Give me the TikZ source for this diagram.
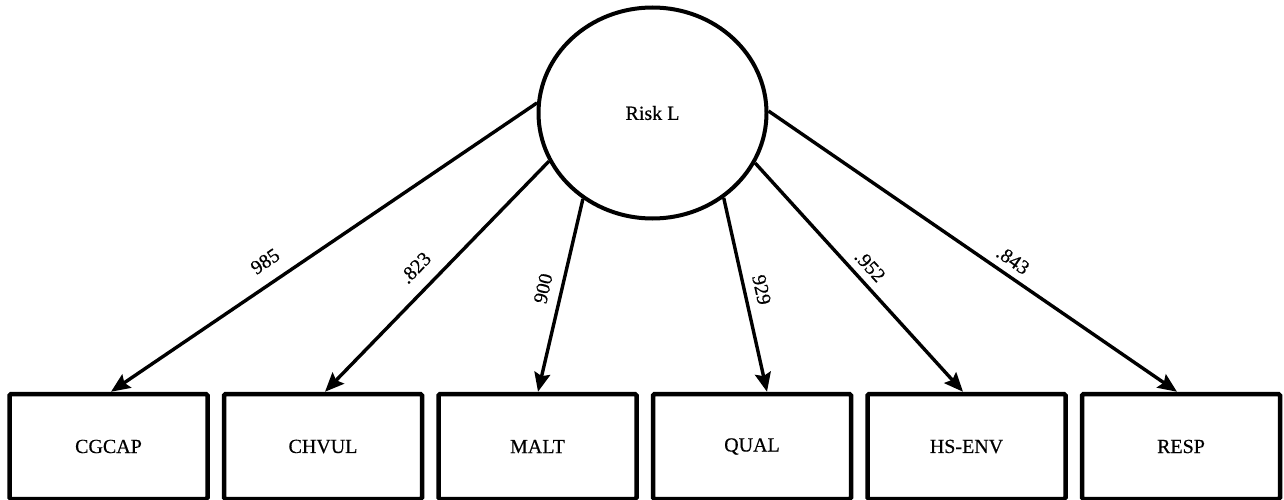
\documentclass[tikz,border=0pt]{standalone}
\usepackage{fontspec}
\setmainfont{Liberation Serif}
\newfontfamily\diafont{Liberation Serif}[FakeBold=0.5]
\usetikzlibrary{shapes.geometric,arrows.meta,calc}
\begin{document}
\begin{tikzpicture}[x=1pt,y=1pt,
  latent/.style={ellipse,draw,line width=4pt,minimum width=228pt,minimum height=211pt,inner sep=0pt,font=\diafont\fontsize{20}{23}\selectfont},
  obs/.style={rectangle,draw,line width=4.5pt,rounded corners=1.5pt,minimum width=198pt,minimum height=105pt,font=\diafont\fontsize{20}{23}\selectfont},
  path/.style={line width=3.4pt,-{Stealth[length=19pt,width=16pt,inset=3pt]}},
  coef/.style={sloped,inner sep=0pt,font=\diafont\fontsize{20}{23}\selectfont}]
\useasboundingbox (0,0) rectangle (1284,499);
\node[latent] (R) at (652.5,386) {Risk L};
\node[obs] (b1) at (108.5,52.5) {CGCAP};
\node[obs] (b2) at (323,52.5) {CHVUL};
\node[obs] (b3) at (537.5,52.5) {MALT};
\node[obs] (b4) at (752,52.5) {QUAL};
\node[obs] (b5) at (966.5,52.5) {HS-ENV};
\node[obs] (b6) at (1181,52.5) {RESP};
\coordinate (e1) at ($(b1.north)+(2.5,0)$);
\coordinate (e2) at ($(b2.north)+(2,0)$);
\coordinate (e3) at ($(b3.north)+(0.5,0)$);
\coordinate (e4) at ($(b4.north)+(15,0)$);
\coordinate (e5) at ($(b5.north)+(-3.5,0)$);
\coordinate (e6) at ($(b6.north)+(-4,0)$);
\draw[path] (R.175.5) -- node[coef,pos=0.61,above=13pt] {985} (e1);
\draw[path] (R.205) -- node[coef,pos=0.527,above=13pt] {.823} (e2);
\draw[path] (R.231) -- node[coef,pos=0.486,above=10pt] {900} (e3);
\draw[path] (R.310.6) -- node[coef,pos=0.493,above=8.6pt] {929} (e4);
\draw[path] (R.334.8) -- node[coef,pos=0.497,above=7.2pt] {.952} (e5);
\draw[path] (R.1.5) -- node[coef,pos=0.577,above=7pt] {.843} (e6);
\end{tikzpicture}
\end{document}
